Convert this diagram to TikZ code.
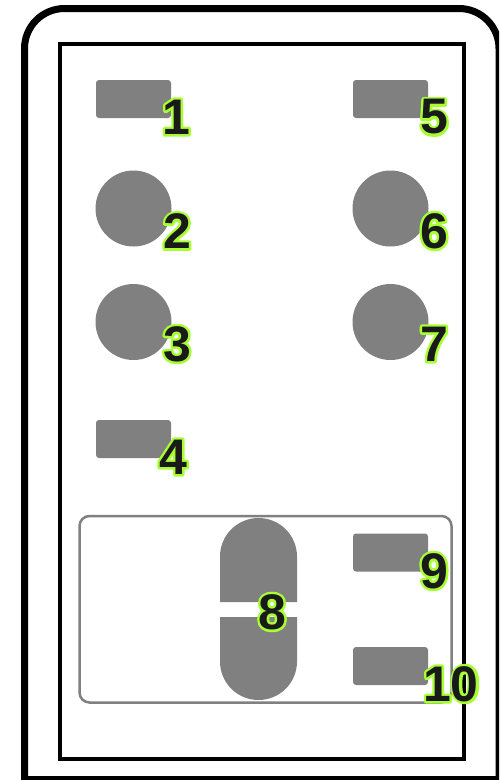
\documentclass[tikz,border=0pt]{standalone}
\usepackage{fontspec}
\setmainfont{Liberation Sans}
\definecolor{btngray}{HTML}{808080}
\definecolor{lblfill}{HTML}{1A1A1A}
\newcommand\outlinetext[1]{\special{pdf:literal direct 1 Tr 5 w 1 j 0.66 1 0.2 RG}\rlap{#1}\special{pdf:literal direct 0 Tr}#1}
\tikzset{
  btn/.style={fill=btngray, rounded corners=3pt, minimum width=75pt, minimum height=38pt, inner sep=0pt},
  knob/.style={fill=btngray, circle, minimum size=76pt, inner sep=0pt},
  lbl/.style={inner sep=0pt, text=lblfill, font=\fontsize{50}{50}\selectfont\bfseries}
}
\begin{document}
\begin{tikzpicture}[x=1pt,y=-1pt]
\useasboundingbox (0,0) rectangle (499,780);
\begin{scope}
\clip (0,0) rectangle (499,780);
% outer casing
\draw[line width=7pt] (24.5,785) -- (24.5,48.5) arc[start angle=180,end angle=90,radius=40pt]
  -- (459,8.5) arc[start angle=90,end angle=0,radius=40pt] -- (499,785);
\draw[line width=7pt] (24.5,779.5) -- (499,779.5);
\end{scope}
% inner panel
\draw[line width=3.5pt] (60,44) rectangle (464,759);
% bottom group
\draw[draw=btngray, line width=2.5pt, rounded corners=10pt] (79.5,516) rectangle (451.5,702.5);
% buttons
\node[btn] (b1) at (133.5,99) {};
\node[btn] (b5) at (390.5,99) {};
\node[knob] (b2) at (133.5,208.5) {};
\node[knob] (b6) at (390.5,208.5) {};
\node[knob] (b3) at (133.5,322) {};
\node[knob] (b7) at (390.5,322) {};
\node[btn] (b4) at (133.5,439) {};
\node[btn] (b9) at (390.5,552.5) {};
\node[btn] (b10) at (390.5,666) {};
% pill 8
\fill[btngray] (220,602) -- (220,556.5) arc[start angle=180,end angle=0,radius=38.5pt] -- (297,602) -- cycle;
\fill[btngray] (220,617) -- (220,661.5) arc[start angle=180,end angle=360,radius=38.5pt] -- (297,617) -- cycle;
% labels
\node[lbl] (l1) at (176,117) {\outlinetext{1}};
\node[lbl] (l5) at (434,117) {\outlinetext{5}};
\node[lbl] (l2) at (177,231) {\outlinetext{2}};
\node[lbl] (l6) at (434,231) {\outlinetext{6}};
\node[lbl] (l3) at (177,344) {\outlinetext{3}};
\node[lbl] (l7) at (434,344) {\outlinetext{7}};
\node[lbl] (l4) at (173,457) {\outlinetext{4}};
\node[lbl] (l8) at (272,612) {\outlinetext{8}};
\node[lbl] (l9) at (434,571) {\outlinetext{9}};
\node[lbl] (l10) at (451,684) {\outlinetext{10}};
\end{tikzpicture}
\end{document}
